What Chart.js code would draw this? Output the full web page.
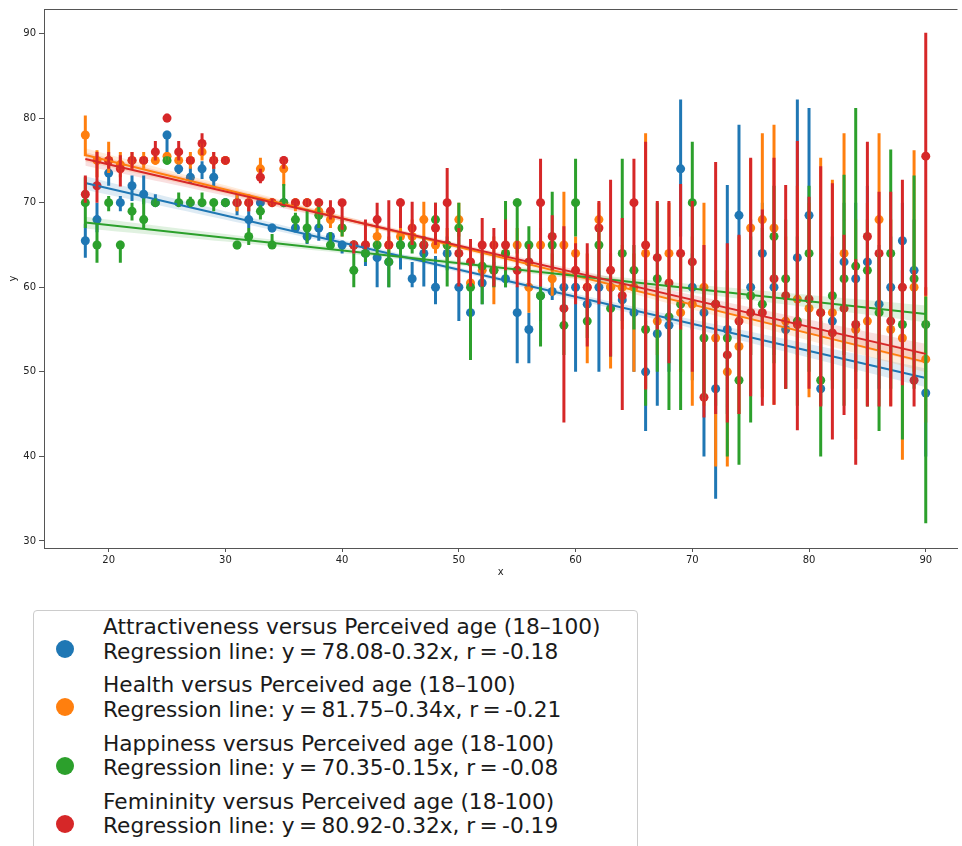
<!DOCTYPE html>
<html lang="en">
<head>
    <meta charset="UTF-8">
    <title>Ratings versus perceived age</title>
    <script src="https://cdn.jsdelivr.net/npm/chart.js"></script>
    <style>
        body {
            margin: 0;
            padding: 0;
            background: #ffffff;
            font-family: 'DejaVu Sans', sans-serif;
        }
        .page {
            position: relative;
            width: 962px;
            height: 846px;
            overflow: hidden;
        }
        .chart-box {
            position: absolute;
            left: 0;
            top: 0;
            width: 962px;
            height: 582px;
        }
        .legend-box {
            position: absolute;
            left: 33px;
            top: 610px;
            width: 605px;
            height: 260px;
            border: 1px solid #cccccc;
            border-radius: 4px;
            box-sizing: border-box;
            background: #fff;
        }
        .legend-item {
            position: absolute;
            left: 0;
            height: 50px;
        }
        .legend-dot {
            position: absolute;
            left: 22px;
            top: 25px;
            width: 18px;
            height: 18px;
            border-radius: 50%;
        }
        .legend-text {
            position: absolute;
            left: 69px;
            top: 0;
            font-size: 21.7px;
            line-height: 24.5px;
            color: #1a1a1a;
            white-space: nowrap;
        }
    </style>
</head>
<body>
<div class="page">
    <div class="chart-box"><canvas id="ageChart"></canvas></div>
    <div class="legend-box" id="legendBox"></div>
</div>

<script>
    // perceived age (x)
    const ages = [18, 19, 20, 21, 22, 23, 24, 25, 26, 27, 28, 29, 30, 31, 32, 33, 34, 35, 36, 37,
        38, 39, 40, 41, 42, 43, 44, 45, 46, 47, 48, 49, 50, 51, 52, 53, 54, 55, 56, 57,
        58, 59, 60, 61, 62, 63, 64, 65, 66, 67, 68, 69, 70, 71, 72, 73, 74, 75, 76, 77,
        78, 79, 80, 81, 82, 83, 84, 85, 86, 87, 88, 89, 90];

    const xTicks = [20, 30, 40, 50, 60, 70, 80, 90];
    const yTicks = [30, 40, 50, 60, 70, 80, 90];

    // Attractiveness
    const attrMean = [65.5, 68, 73.5, 70, 72, 71, 70, 78, 74, 73, 74, 73, 70, 70, 68, 70, 67, 70, 67, 66,
        67, 66, 65, 65, 64, 63.5, 63, 65, 61, 64, 60, 64, 60, 57, 60.5, 62, 61, 57, 55, 59,
        59.5, 60, 60, 58, 60, 60, 58.5, 57, 50, 54.5, 55.5, 74, 60, 57, 48, 55, 68.5, 60, 64, 60,
        55, 63.5, 68.5, 48, 56, 63, 61, 63, 58, 60, 65.5, 62, 47.5];
    const attrLo = [63.5, 66.5, 72, 69, 70.2, 69.8, 69.5, 76, 73.4, 72.3, 72.8, 71.8, 69.5, 68.5, 67, 69.5, 66.5, 69.5, 66.5, 65.1,
        65.5, 65, 64, 64, 62.5, 60, 60, 62.1, 60, 60.1, 58, 62, 56, 55, 58, 60, 60, 51, 51, 56,
        58.5, 57, 50, 56, 50, 56, 56, 50, 43, 46, 50, 66, 49, 40, 35, 45, 55, 52, 54, 52,
        48, 52, 52, 46, 49, 52, 48, 52, 48, 50, 54, 52, 40];
    const attrHi = [67.5, 70, 75, 70.8, 73.2, 73.2, 71, 78.5, 74.8, 74.2, 74.9, 74.2, 70.5, 71, 70, 70.5, 67.5, 70.5, 68, 66.6,
        67.5, 66.5, 65.5, 65.5, 65, 64, 64, 65.2, 63, 66, 63.7, 66, 60.5, 59.5, 61.5, 63, 62, 60.1, 57, 61,
        60.5, 62, 60.5, 60, 62, 62, 60, 60, 56, 56, 58, 82.2, 64, 60, 56, 72.1, 79.2, 68, 70, 66,
        62, 82.2, 81.2, 56, 64, 70, 70, 72, 65, 66, 70, 68, 56];

    // Health
    const healthMean = [78, 75, 75, 74.5, 75, 75, 75, 75.5, 75, 75, 76, 75, 75, 70, 70, 74, 70, 74, 70, 70,
        69, 68, 67, 65, 65, 66, 65, 66, 66, 68, 65, 65, 68, 60.5, 62, 62, 64, 65, 60, 65,
        61, 65, 64, 60, 68, 60, 60, 60, 64, 56, 64, 57, 58, 60, 54, 50, 53, 67, 68, 67,
        56, 58.6, 57.5, 57, 57, 64, 55, 56, 68, 55, 54, 60, 51.5];
    const healthLo = [75.5, 73, 73.5, 73, 74, 74, 74.5, 75, 74.5, 74, 75, 74, 74.5, 69, 69, 73.5, 69.5, 72, 69, 69.5,
        68, 67, 66, 64.5, 64, 65, 64, 65, 65, 65, 64, 63, 66, 59, 60, 58, 62, 63, 57, 62,
        59, 60, 62, 51, 62, 50.4, 55, 50, 48, 52, 58, 50, 46, 46, 38.8, 38.8, 45, 52, 47, 46.1,
        48, 49, 47, 46, 49, 52, 42, 46, 52, 46, 39.6, 50, 44];
    const healthHi = [80.3, 76.2, 77.2, 76, 76, 76, 75.8, 76, 75.5, 76, 77, 76, 75.5, 71, 71, 75.3, 70.5, 75, 70.5, 70.5,
        70, 69, 68, 65.5, 65.5, 67, 66, 67, 68, 70.1, 66, 67, 70, 62, 64, 66, 66, 67, 62, 67,
        64, 71.3, 66, 64, 70, 64, 65, 64, 78.2, 60, 70, 64, 66, 70, 60, 62, 66, 75.2, 78.2, 79.2,
        66, 72, 70, 75.3, 72.7, 78.2, 68, 70, 78.2, 68, 60, 76.2, 60];

    // Happiness
    const happyMean = [70, 65, 70, 65, 69, 68, 70, 75, 70, 70, 70, 70, 70, 65, 66, 69, 65, 70, 68, 67,
        68.5, 65, 67, 62, 64, 65, 63, 65, 65, 65, 68, 65, 67, 60, 62.5, 62, 64, 70, 65, 59,
        65, 55.5, 70, 56, 65, 57.5, 64, 62, 55, 61, 56.5, 58, 70, 54, 58, 54, 49, 59, 58, 66,
        61, 56, 64, 49, 59, 61, 62.5, 62, 57, 64, 55.6, 61, 55.6];
    const happyLo = [67, 62.9, 69, 62.9, 67.9, 67, 69.5, 74.5, 69.5, 69.5, 69.5, 69, 69.5, 64.5, 65, 68, 64.8, 69.5, 66.8, 65.2,
        67, 64.8, 66, 60, 63, 64, 60, 63.5, 64, 63, 65, 60.1, 63, 51.4, 58, 60, 60, 64, 62, 53,
        62, 52, 66, 54, 60, 51.8, 58, 55, 46, 50, 45.5, 45.5, 55, 47, 46, 40, 39, 44, 48, 51,
        48, 46, 50, 40, 48, 46, 50, 45.9, 43, 48, 42, 48, 32.1];
    const happyHi = [73, 67.6, 70.8, 65.5, 70, 70.5, 70.5, 75.5, 71.2, 70.7, 71.2, 70.5, 70.5, 65.5, 67, 69.7, 66.3, 72.2, 68.8, 69.2,
        70, 66.5, 68.2, 64, 65, 65.5, 64.5, 66, 66, 66, 70, 65.5, 70, 60.5, 64, 64, 70.2, 70.5, 67.2, 60.1,
        71.3, 60, 75.2, 58, 67, 60, 75.2, 65, 60, 70, 60, 64, 77.2, 60, 62, 62, 55, 66, 67, 72,
        68, 66, 72, 58, 66, 73.3, 81.2, 68, 64, 76.3, 62, 73.2, 58.9];

    // Femininity
    const femMean = [71, 72, 75, 74, 75, 75, 76, 80, 76, 75, 77, 75, 75, 70, 70, 73, 70, 75, 70, 70,
        70, 69, 70, 65, 65, 68, 65, 70, 67, 65, 67, 70, 64, 63, 65, 65, 65, 62, 63, 70,
        66, 57.5, 62, 60, 67, 62, 59, 70, 65, 63.5, 60.5, 64, 63, 47, 58, 52, 56, 57, 57, 61,
        59, 55.6, 58.6, 57, 54.6, 57.5, 55.6, 66, 64, 56, 60, 49, 75.5];
    const femLo = [70, 70, 74, 71.9, 74, 74.5, 75, 79.5, 75, 74.5, 75.6, 74, 74.5, 69.5, 69, 72.3, 69.5, 74, 69.5, 69.5,
        69.5, 68, 66.8, 64, 64.5, 67, 64.5, 67, 65, 64, 65, 65.2, 60.1, 60.1, 60.1, 60.1, 62, 60, 60.1, 60.1,
        62, 44, 58, 53, 58, 51.8, 45.5, 60, 47.9, 55, 51, 55, 50, 44.6, 45, 44, 45, 47.1, 46, 46.1,
        48, 43.1, 48, 45.9, 42, 44.9, 39, 45.9, 45.9, 45.9, 48.4, 45.9, 59];
    const femHi = [73.2, 76, 76, 75.6, 76, 75.5, 77.3, 80.5, 77.3, 75.5, 78.2, 76, 75.5, 70.5, 70.5, 74, 70.5, 75.5, 70.5, 70.5,
        70.5, 70.3, 70.3, 65.5, 68, 70, 70.3, 70.5, 70.1, 66, 70, 74.1, 67, 65.7, 68.2, 67, 68, 65.5, 65.1, 75.2,
        68.5, 67.2, 65.2, 65.2, 70.2, 72.7, 68.2, 75.2, 77.2, 70.2, 70.2, 72.2, 70.2, 65, 74.8, 65.2, 66.2, 75.3, 69.2, 75.3,
        72.1, 77.3, 70.7, 74.3, 72.3, 66.2, 63.3, 77.2, 71.3, 71.3, 72.7, 62, 90.1];

    // regression lines from the legend, and the CI band half widths
    const regIntercepts = [78.08, 81.75, 70.35, 80.92];
    const regSlopes = [-0.32, -0.34, -0.15, -0.32];
    const bandX = [18, 30, 42, 54, 66, 78, 90];
    const bandHalf = [
        [0.8, 0.5, 0.3, 0.3, 0.45, 0.75, 1.1],
        [0.8, 0.5, 0.3, 0.3, 0.5, 0.8, 1.2],
        [0.7, 0.45, 0.3, 0.3, 0.45, 0.7, 1.0],
        [0.8, 0.5, 0.3, 0.3, 0.5, 0.8, 1.2]
    ];

    const seriesNames = [
        ['Attractiveness versus Perceived age (18\u2013100)', 'Regression line: y\u2009=\u200978.08-0.32x, r\u2009=\u2009-0.18'],
        ['Health versus Perceived age (18\u2013100)', 'Regression line: y\u2009=\u200981.75\u20130.34x, r\u2009=\u2009-0.21'],
        ['Happiness versus Perceived age (18-100)', 'Regression line: y\u2009=\u200970.35-0.15x, r\u2009=\u2009-0.08'],
        ['Femininity versus Perceived age (18-100)', 'Regression line: y\u2009=\u200980.92-0.32x, r\u2009=\u2009-0.19']
    ];
    const colors = ['#1f77b4', '#ff7f0e', '#2ca02c', '#d62728'];
    const bandColors = ['rgba(31,119,180,0.15)', 'rgba(255,127,14,0.15)', 'rgba(44,160,44,0.15)', 'rgba(214,39,40,0.15)'];

    const means = [attrMean, healthMean, happyMean, femMean];
    const lows = [attrLo, healthLo, happyLo, femLo];
    const highs = [attrHi, healthHi, happyHi, femHi];

    function errorSegments(lo, hi) {
        const pts = [];
        ages.forEach((a, i) => {
            pts.push({x: a, y: lo[i]});
            pts.push({x: a, y: hi[i]});
            pts.push({x: a, y: null});
        });
        return pts;
    }

    const datasets = [];
    // matplotlib draws scatter/bands (collections) below all lines; lower order = drawn on top
    for (let s = 0; s < 4; s++) {
        datasets.push({
            type: 'scatter',
            data: ages.map((a, i) => ({x: a, y: means[s][i]})),
            backgroundColor: colors[s],
            pointRadius: 4.5,
            pointBorderWidth: 0,
            order: 100 - s
        });
    }
    for (let s = 0; s < 4; s++) {
        const f = x => regIntercepts[s] + regSlopes[s] * x;
        datasets.push({
            type: 'line',
            data: bandX.map((x, i) => ({x: x, y: f(x) + bandHalf[s][i]})),
            borderWidth: 0,
            borderColor: 'rgba(0,0,0,0)',
            pointRadius: 0,
            fill: false,
            tension: 0.4,
            order: 90 - 2 * s
        });
        datasets.push({
            type: 'line',
            data: bandX.map((x, i) => ({x: x, y: f(x) - bandHalf[s][i]})),
            borderWidth: 0,
            borderColor: 'rgba(0,0,0,0)',
            backgroundColor: bandColors[s],
            pointRadius: 0,
            fill: '-1',
            tension: 0.4,
            order: 89 - 2 * s
        });
    }
    for (let s = 0; s < 4; s++) {
        datasets.push({
            type: 'line',
            data: errorSegments(lows[s], highs[s]),
            borderColor: colors[s],
            borderWidth: 3,
            pointRadius: 0,
            spanGaps: false,
            showLine: true,
            fill: false,
            order: 40 - 2 * s
        });
        datasets.push({
            type: 'line',
            data: [ages[0], ages[ages.length - 1]].map(x => ({x: x, y: regIntercepts[s] + regSlopes[s] * x})),
            borderColor: colors[s],
            borderWidth: 2,
            pointRadius: 0,
            showLine: true,
            fill: false,
            order: 39 - 2 * s
        });
    }

    const topSpine = {
        id: 'topSpine',
        afterDraw(chart) {
            const {ctx, chartArea} = chart;
            ctx.save();
            ctx.strokeStyle = '#555';
            ctx.lineWidth = 1;
            ctx.beginPath();
            ctx.moveTo(chartArea.left, chartArea.top + 0.5);
            ctx.lineTo(chartArea.right, chartArea.top + 0.5);
            ctx.stroke();
            ctx.restore();
        }
    };

    const tickFont = {family: "'DejaVu Sans', sans-serif", size: 10};

    new Chart(document.getElementById('ageChart'), {
        type: 'scatter',
        data: {datasets: datasets},
        options: {
            responsive: true,
            maintainAspectRatio: false,
            animation: false,
            layout: {padding: {top: 9, right: 0, left: 0, bottom: 0}},
            plugins: {
                legend: {display: false},
                tooltip: {enabled: false}
            },
            scales: {
                x: {
                    type: 'linear',
                    min: 14.46,
                    max: 92.72,
                    afterBuildTicks: axis => { axis.ticks = xTicks.map(v => ({value: v})); },
                    afterFit: axis => { axis.height = 34; },
                    grid: {drawOnChartArea: false, drawTicks: true, tickLength: 4, color: '#555'},
                    border: {display: true, color: '#555', width: 1},
                    ticks: {color: '#222', font: tickFont, padding: 2, maxRotation: 0},
                    title: {display: true, text: 'x', color: '#222', font: tickFont, padding: {top: 0, bottom: 4}}
                },
                y: {
                    type: 'linear',
                    min: 29.17,
                    max: 92.9,
                    afterBuildTicks: axis => { axis.ticks = yTicks.map(v => ({value: v})); },
                    afterFit: axis => { axis.width = 44; },
                    grid: {drawOnChartArea: false, drawTicks: true, tickLength: 5, color: '#555'},
                    border: {display: true, color: '#555', width: 1},
                    ticks: {color: '#222', font: tickFont, padding: 3},
                    title: {display: true, text: 'y', color: '#222', font: tickFont, padding: {top: 7, bottom: 0}}
                }
            }
        },
        plugins: [topSpine]
    });

    // legend below the plot
    const legendBox = document.getElementById('legendBox');
    seriesNames.forEach((lines, i) => {
        const item = document.createElement('div');
        item.className = 'legend-item';
        item.style.top = (4 + i * 58.3) + 'px';
        const dot = document.createElement('div');
        dot.className = 'legend-dot';
        dot.style.background = colors[i];
        const text = document.createElement('div');
        text.className = 'legend-text';
        text.innerHTML = lines[0] + '<br>' + lines[1];
        item.appendChild(dot);
        item.appendChild(text);
        legendBox.appendChild(item);
    });
</script>
</body>
</html>
